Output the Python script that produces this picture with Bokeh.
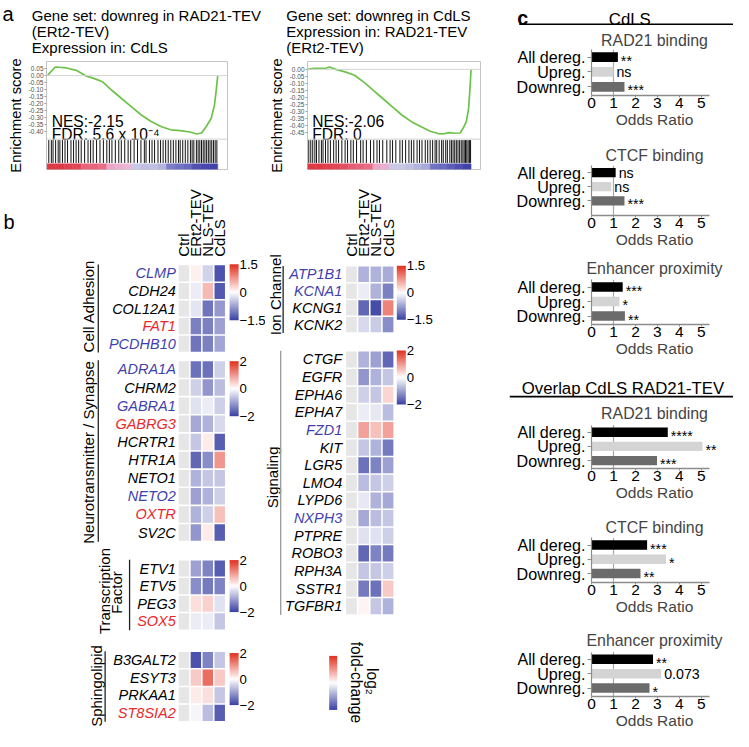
import math
from bokeh.plotting import figure
from bokeh.layouts import column, row
from bokeh.models import (Range1d, ColumnDataSource, LinearColorMapper, ColorBar,
                          FixedTicker, NumeralTickFormatter, Span)
from bokeh.core.properties import value
from bokeh.embed import file_html
from bokeh.resources import INLINE

# ============================ DATA ============================
# ---- panel a : GSEA running enrichment score (rank in % of list) ----
GSEA_L_TITLE = ["Gene set: downreg in RAD21-TEV", "(ERt2-TEV)", "Expression in: CdLS"]
GSEA_L_RANK = [0.4, 4.8, 11.4, 17.1, 22.9, 28.6, 32.4, 38.1, 43.8, 49.5, 55.2, 61.0,
               66.7, 72.4, 78.1, 83.8, 87.6, 90.5, 93.3, 96.2, 98.1, 99.0, 100.0]
GSEA_L_ES = [0.003, 0.062, 0.055, 0.038, -0.002, -0.025, -0.044, -0.107, -0.166, -0.224,
             -0.283, -0.330, -0.365, -0.389, -0.395, -0.405, -0.419, -0.412, -0.365,
             -0.306, -0.212, -0.119, -0.002]
GSEA_L_HITS = [1.0, 2.5, 3.5, 5.0, 6.5, 7.5, 9.0, 10.5, 12.0, 14.0, 15.5, 17.0, 18.5, 20.0,
               22.0, 24.0, 25.5, 27.0, 29.0, 31.0, 33.0, 35.0, 36.5, 38.0, 40.0, 42.0, 43.5,
               45.5, 47.5, 49.0, 51.0, 53.0, 55.0, 57.0, 58.0, 60.0, 61.5, 63.0, 65.0, 66.5,
               68.0, 69.5, 71.0, 72.5, 74.0, 75.5, 77.0, 78.0, 79.5, 81.0, 82.5, 84.0, 85.0,
               86.0, 87.5, 88.5, 89.5, 90.5, 91.5, 92.5, 93.5, 94.5, 95.5, 96.5, 97.5, 98.5, 99.5]
GSEA_L_METRIC = [1.0, 1.0, 0.95, 0.9, 0.7, 0.7, 0.65, 0.35, 0.3, 0.25,
                 -0.2, -0.25, -0.25, -0.3, -0.55, -0.6, -0.65, -0.85, -0.9, -0.95]
GSEA_L_TICKS = [0.05, 0.0, -0.05, -0.10, -0.15, -0.20, -0.25, -0.30, -0.35, -0.40]
GSEA_L_STATS = ["NES:-2.15", "FDR: 5.6 x 10\u207b\u2074"]

GSEA_R_TITLE = ["Gene set: downreg in CdLS", "Expression in: RAD21-TEV", "(ERt2-TEV)"]
GSEA_R_RANK = [0.4, 3.8, 11.5, 13.5, 17.3, 23.0, 28.8, 34.6, 40.4, 46.2, 51.9, 57.7, 63.5,
               69.2, 75.0, 79.8, 82.7, 86.5, 90.4, 93.3, 95.2, 97.1, 98.5, 99.2, 100.0]
GSEA_R_ES = [0.0, 0.007, 0.009, 0.016, 0.0, -0.018, -0.042, -0.092, -0.150, -0.208, -0.265,
             -0.323, -0.370, -0.404, -0.438, -0.454, -0.457, -0.447, -0.452, -0.450, -0.415,
             -0.370, -0.277, -0.161, 0.0]
GSEA_R_HITS = [0.8, 2.0, 3.2, 4.5, 5.5, 7.0, 8.5, 9.5, 11.0, 12.5, 14.0, 16.0, 17.5, 19.0,
               21.0, 23.0, 24.5, 26.5, 28.0, 30.0, 32.5, 34.0, 36.0, 38.5, 40.5, 42.5, 44.0,
               46.0, 48.5, 50.5, 52.0, 54.0, 56.5, 58.0, 60.0, 62.0, 63.5, 65.0, 67.0, 68.5,
               70.0, 72.0, 73.5, 75.0, 76.5, 78.0, 79.0, 80.5, 82.0, 83.0, 84.5, 85.5, 87.0,
               88.0, 89.0, 90.0, 91.0, 92.0, 93.0, 94.0, 95.0, 95.8, 96.6, 97.4, 98.2, 99.0, 99.7]
GSEA_R_METRIC = [1.0, 1.0, 0.95, 0.9, 0.85, 0.75, 0.7, 0.65, 0.35, 0.3,
                 -0.2, -0.2, -0.25, -0.3, -0.35, -0.6, -0.65, -0.75, -0.85, -0.95]
GSEA_R_TICKS = [0.0, -0.05, -0.10, -0.15, -0.20, -0.25, -0.30, -0.35, -0.40, -0.45]
GSEA_R_STATS = ["NES:-2.06", "FDR: 0"]

# ---- panel b : log2 fold-change heatmaps ----
CONDITIONS = ["Ctrl", "ERt2-TEV", "NLS-TEV", "CdLS"]

CA_GENES = ["CLMP", "CDH24", "COL12A1", "FAT1", "PCDHB10"]
CA_ERT2 = [0.1, -0.15, -0.2, -1.0, -1.1]
CA_NLS = [-0.35, 0.5, -1.1, -1.0, -1.0]
CA_CDLS = [-1.35, -1.3, -0.8, -0.75, -0.7]

NT_GENES = ["ADRA1A", "CHRM2", "GABRA1", "GABRG3", "HCRTR1", "HTR1A", "NETO1", "NETO2", "OXTR", "SV2C"]
NT_ERT2 = [-1.5, -0.5, -0.3, -0.9, -0.6, -1.6, -0.8, -1.0, -0.8, -1.1]
NT_NLS = [-1.5, -1.1, -0.2, -0.8, 0.2, -1.2, -0.6, -0.8, -0.5, 0.2]
NT_CDLS = [-0.5, -0.7, -0.5, -0.4, -1.7, 1.0, -0.6, -0.5, 0.6, -1.7]

TF_GENES = ["ETV1", "ETV5", "PEG3", "SOX5"]
TF_ERT2 = [-1.0, -1.2, 0.3, -0.2]
TF_NLS = [-1.3, -1.4, 0.45, -0.2]
TF_CDLS = [-1.7, -1.3, -0.3, -0.6]

SP_GENES = ["B3GALT2", "ESYT3", "PRKAA1", "ST8SIA2"]
SP_ERT2 = [-1.8, 0.5, 0.2, -0.1]
SP_NLS = [-1.3, 1.4, 0.3, -0.7]
SP_CDLS = [-0.6, 0.5, -0.6, -1.7]

IC_GENES = ["ATP1B1", "KCNA1", "KCNG1", "KCNK2"]
IC_ERT2 = [-0.6, -0.15, -1.2, -0.3]
IC_NLS = [-0.6, -0.6, -1.4, -0.4]
IC_CDLS = [-0.65, -1.0, 0.9, -0.9]

SG_GENES = ["CTGF", "EGFR", "EPHA6", "EPHA7", "FZD1", "KIT", "LGR5", "LMO4", "LYPD6",
            "NXPH3", "PTPRE", "ROBO3", "RPH3A", "SSTR1", "TGFBR1"]
SG_ERT2 = [-0.8, -1.1, -0.5, -0.2, 0.9, -0.6, -1.5, -0.7, -0.25, -0.9, -0.3, -1.6, -0.6, -1.4, 0.1]
SG_NLS = [-1.0, -0.8, -0.6, -0.25, 0.6, -0.8, -1.3, -0.6, -0.8, -0.7, -0.3, -1.3, -0.6, -1.5, -0.6]
SG_CDLS = [-1.6, -0.6, 0.4, -0.7, 0.9, -1.4, -1.0, -0.5, -0.9, -0.6, -0.5, -1.4, -0.5, 0.5, -0.8]

BLUE_GENES = ["CLMP", "PCDHB10", "ADRA1A", "GABRA1", "NETO2", "ATP1B1", "KCNA1", "FZD1", "NXPH3"]
RED_GENES = ["FAT1", "GABRG3", "OXTR", "SOX5", "ST8SIA2"]

# ---- panel c : odds ratios ----
OR_CATS = ["All dereg.", "Upreg.", "Downreg."]
OR_TICKS = [0, 1, 2, 3, 4, 5]
OR_REF = 1.0
CDLS_RAD21 = [1.2, 1.0, 1.5]
CDLS_RAD21_SIG = ["**", "ns", "***"]
CDLS_CTCF = [1.1, 0.9, 1.5]
CDLS_CTCF_SIG = ["ns", "ns", "***"]
CDLS_ENH = [1.42, 1.27, 1.52]
CDLS_ENH_SIG = ["***", "*", "**"]
OVL_RAD21 = [3.47, 5.05, 2.98]
OVL_RAD21_SIG = ["****", "**", "***"]
OVL_CTCF = [2.53, 3.39, 2.23]
OVL_CTCF_SIG = ["***", "*", "**"]
OVL_ENH = [2.8, 3.17, 2.64]
OVL_ENH_SIG = ["**", "0.073", "*"]

# ============================ STYLE / LAYOUT ============================
S = 0.978
FONT = "Liberation Sans"


def fpx(v):
    return f"{v * S:.1f}px"


def ramp(stops, n=256):
    out = []
    for i in range(n):
        t = i / (n - 1)
        for (t0, c0), (t1, c1) in zip(stops[:-1], stops[1:]):
            if t0 <= t <= t1:
                f = (t - t0) / (t1 - t0)
                a = [int(c0[k:k + 2], 16) for k in (1, 3, 5)]
                b = [int(c1[k:k + 2], 16) for k in (1, 3, 5)]
                out.append("#%02x%02x%02x" % tuple(round(a[j] + (b[j] - a[j]) * f) for j in range(3)))
                break
    return out


HEAT_PALETTE = ramp([(0, "#3a41a3"), (0.5, "#ffffff"), (1, "#e2301f")])
RANK_PALETTE = ramp([(0, "#3a3aa6"), (0.2, "#7272c4"), (0.38, "#c2c2e4"), (0.5, "#ece6f2"),
                     (0.65, "#eab0d0"), (0.85, "#e8647c"), (1, "#de3a46")])


def txt(p, x, y, text, size, **kw):
    opts = dict(text_font=value(FONT), text_font_size=value(fpx(size)), text_color="black",
                text_baseline=value("alphabetic"), text_align=value("left"))
    for k, v in kw.items():
        if k in ("text_baseline", "text_align", "text_font_style") and isinstance(v, str):
            v = value(v)
        opts[k] = v
    p.text(x=x, y=y, text=text, **opts)


def canvas(w, h, xr, yr, **kw):
    p = figure(width=w, height=h, x_range=xr, y_range=yr, output_backend="svg",
               toolbar_location=None, x_axis_type=None, y_axis_type=None,
               min_border=0, title=None, frame_align=False, **kw)
    p.outline_line_color = None
    p.background_fill_color = "white"
    p.border_fill_color = "white"
    return p


def heights(bnds):
    pb = [round(b * S) for b in bnds]
    return [pb[i + 1] - pb[i] for i in range(len(pb) - 1)]


XA, XB, XC = (0, 271), (271, 520), (520, 749)
WA = round(XA[1] * S)
WB = round(XB[1] * S) - WA
WC = round(XC[1] * S) - round(XC[0] * S)


# ---------------- panel a ----------------
def gsea_titles(w, h):
    p = canvas(w, h, Range1d(0, 520), Range1d(-58, 0))
    txt(p, [2], [-14.0], ["a"], 20.5)
    txt(p, [32] * 3, [-15.7, -32.0, -48.2], GSEA_L_TITLE, 15.3)
    txt(p, [292] * 3, [-15.7, -32.0, -48.2], GSEA_R_TITLE, 15.3)
    return p


def gsea_plot(w, h, cx, fx0, fx1, x0px, x100px, es_a, ya, es_b, yb, ticks,
              rank, es, hits, metric, stats, stats_x):
    ftop, fbot = 62.0, 172.3
    fy0, fy1 = 58.0, 185.0
    kx = (x100px - x0px) / 100.0
    xr = Range1d((fx0 - x0px) / kx, (fx1 - x0px) / kx)
    ky = (yb - ya) / (es_a - es_b)
    yr = Range1d(es_a - (fbot - ya) / ky, es_a + (ya - ftop) / ky)
    p = figure(width=w, height=h, x_range=xr, y_range=yr, output_backend="svg",
               toolbar_location=None, x_axis_type=None, title=None, min_border=0,
               frame_align=False,
               min_border_left=round((fx0 - cx[0]) * S), min_border_right=round((cx[1] - fx1) * S),
               min_border_top=round((ftop - fy0) * S), min_border_bottom=round((fy1 - fbot) * S))
    p.extra_x_ranges = {"px": Range1d(fx0, fx1)}
    p.extra_y_ranges = {"px": Range1d(-fbot, -ftop)}
    p.outline_line_color = "#c4c4c4"
    p.border_fill_color = "white"
    p.ygrid.visible = False
    ax = p.yaxis[0]
    ax.ticker = FixedTicker(ticks=ticks)
    ax.formatter = NumeralTickFormatter(format="0.00")
    ax.major_label_text_font_size = fpx(6.6)
    ax.major_label_text_font = FONT
    ax.major_label_text_color = "#505050"
    ax.major_label_standoff = 1
    ax.axis_line_color = None
    ax.major_tick_line_color = "#a0a0a0"
    ax.major_tick_out = 2
    ax.major_tick_in = 0
    ax.minor_tick_line_color = None
    ax.axis_label = "Enrichment score"
    ax.axis_label_text_font = FONT
    ax.axis_label_text_font_size = fpx(15)
    ax.axis_label_text_font_style = "normal"
    ax.axis_label_text_color = "black"
    ax.axis_label_standoff = 2

    p.add_layout(Span(location=0, dimension="width", line_color="#d4d4d4", line_width=1))
    p.add_layout(Span(location=-141.3, dimension="width", y_range_name="px",
                      line_color="#d0d0d0", line_width=1))
    p.line(x=rank, y=es, line_color="#6cc24a", line_width=1.7)
    p.segment(x0=hits, x1=hits, y0=-142.3, y1=-165.6, y_range_name="px",
              line_color="#111111", line_width=1.0)
    n = len(metric)
    seg_w = 100.0 / n
    mapper = LinearColorMapper(palette=RANK_PALETTE, low=-1, high=1)
    src = ColumnDataSource(dict(x=[(i + 0.5) * seg_w for i in range(n)], m=metric))
    p.rect(x="x", y=-169.4, width=seg_w, height=5.8, source=src, y_range_name="px",
           fill_color={"field": "m", "transform": mapper},
           line_color={"field": "m", "transform": mapper}, line_width=0.5)
    txt(p, [stats_x] * 2, [-123.3, -136.7], stats, 16, x_range_name="px", y_range_name="px")
    return p


# ---------------- panel b ----------------
def heatmap(w, h, cx, fy0, fy1, c0, q, r0, pitch, label_x, genes, ert2, nls, cdls, lim,
            cat_text, cat_x, cat_y, line_x, line_color, cb_top, cb_x, cb_h,
            header_y=None, letter=None):
    n = len(genes)
    xr = Range1d((cx[0] - c0) / q - 0.5, (cx[1] - c0) / q - 0.5)

    def yv(Y):
        return -((Y - r0) / pitch - 0.5)

    yr = Range1d(yv(fy1), yv(fy0))
    p = canvas(w, h, xr, yr)
    p.extra_x_ranges = {"px": Range1d(cx[0], cx[1])}
    p.extra_y_ranges = {"px": Range1d(-fy1, -fy0)}
    mapper = LinearColorMapper(palette=HEAT_PALETTE, low=-lim, high=lim, nan_color="#e6e6e6")
    xs, ys, vs = [], [], []
    series = [[float("nan")] * n, ert2, nls, cdls]
    for j, ser in enumerate(series):
        for i, v in enumerate(ser):
            xs.append(j)
            ys.append(-i)
            vs.append(v)
    src = ColumnDataSource(dict(x=xs, y=ys, v=vs))
    p.rect(x="x", y="y", width=0.875, height=0.915, source=src,
           fill_color={"field": "v", "transform": mapper}, line_color=None)
    colors = ["#3f3fae" if g in BLUE_GENES else "#e8292b" if g in RED_GENES else "black" for g in genes]
    txt(p, label_x, [-i for i in range(n)], genes, 14.8, text_color=colors, x_range_name="px",
        text_align="right", text_baseline="middle", text_font_style="italic")
    txt(p, cat_x, [-y for y in cat_y], cat_text, 15.3, x_range_name="px", y_range_name="px",
        angle=math.pi / 2, text_align="center", text_baseline="middle")
    p.segment(x0=line_x, x1=line_x, y0=0.5, y1=-(n - 1) - 0.5, x_range_name="px",
              line_color=line_color, line_width=1.3)
    if header_y is not None:
        txt(p, list(range(len(CONDITIONS))), -header_y, CONDITIONS, 15.3, y_range_name="px",
            angle=math.pi / 2, text_align="left", text_baseline="middle")
    if letter:
        txt(p, 3, -226.5, [letter], 20.5, x_range_name="px", y_range_name="px")
    sx = w / (cx[1] - cx[0])
    sy = h / (fy1 - fy0)
    cb = ColorBar(color_mapper=mapper, orientation="vertical",
                  location=((cb_x - cx[0]) * sx, (fy1 - cb_top - cb_h) * sy),
                  width=round(9 * sx), height=round(cb_h * sy), padding=0, margin=0,
                  ticker=FixedTicker(ticks=[-lim, 0, lim]),
                  major_label_text_font=FONT, major_label_text_font_size=fpx(13.5),
                  major_label_text_color="black", label_standoff=1,
                  major_tick_line_color=None, minor_tick_line_color=None, bar_line_color=None,
                  background_fill_color=None, border_line_color=None)
    p.add_layout(cb, "center")
    return p


def legend_fig(w, h, cx, fy0, fy1):
    p = canvas(w, h, Range1d(cx[0], cx[1]), Range1d(-fy1, -fy0))
    sx = w / (cx[1] - cx[0])
    sy = h / (fy1 - fy0)
    mapper = LinearColorMapper(palette=HEAT_PALETTE, low=-1, high=1)
    cb = ColorBar(color_mapper=mapper, orientation="vertical",
                  location=((336 - cx[0]) * sx, (fy1 - 725) * sy),
                  width=round(8 * sx), height=round(55 * sy), padding=0, margin=0,
                  ticker=FixedTicker(ticks=[]), major_label_text_font_size="0px",
                  major_tick_line_color=None, minor_tick_line_color=None, bar_line_color=None,
                  background_fill_color=None, border_line_color=None)
    p.add_layout(cb, "center")
    txt(p, [380.5, 363.5], [-696, -697], ["log\u2082", "fold-change"], 16,
        angle=-math.pi / 2, text_align="center", text_baseline="middle")
    return p


# ---------------- panel c ----------------
OR_X0, OR_K, OR_FX1 = 604.0, 22.5, 733.0
BAR_COLORS = ["#000000", "#d4d4d4", "#6b6b6b"]


def header_fig(w, h, fy0, fy1, letter, text, text_cx, text_base, line_y, line_x0):
    p = canvas(w, h, Range1d(XC[0], XC[1]), Range1d(-fy1, -fy0))
    if letter:
        txt(p, [528], [-18.0], [letter], 20, text_font_style="bold")
    txt(p, [text_cx], [-text_base], [text], 17.2, text_align="center")
    p.segment(x0=line_x0, x1=XC[1], y0=-line_y, y1=-line_y, line_color="black", line_width=1.6)
    return p


def odds_fig(w, h, cy0, cy1, title, title_cx, title_cc, frame_top, centers, axis_y, vals, notes):
    pitch = (centers[2] - centers[0]) / 2.0
    yb = -(axis_y - centers[2]) / pitch
    yt = 2 + (centers[0] - frame_top) / pitch
    p = figure(width=w, height=h, x_range=Range1d(0, (OR_FX1 - OR_X0) / OR_K),
               y_range=Range1d(yb, yt), output_backend="svg", toolbar_location=None,
               frame_align=False,
               min_border=0, min_border_left=round((OR_X0 - XC[0]) * S),
               min_border_right=round((XC[1] - OR_FX1) * S),
               min_border_top=round((frame_top - cy0) * S),
               min_border_bottom=round((cy1 - axis_y) * S))
    p.title.text = title
    p.title.align = "center"
    p.title.offset = (title_cx - (OR_X0 + OR_FX1) / 2) * S
    p.title.text_font = FONT
    p.title.text_font_size = fpx(16.3)
    p.title.text_font_style = "normal"
    p.title.standoff = max(0.0, (frame_top - 9.3 - title_cc) * S)
    p.outline_line_color = None
    p.border_fill_color = "white"
    p.grid.visible = False
    xa = p.xaxis[0]
    xa.ticker = FixedTicker(ticks=OR_TICKS)
    xa.bounds = (0, 5.35)
    xa.axis_line_color = "#8c8c8c"
    xa.axis_line_width = 1.5
    xa.major_tick_line_color = "#8c8c8c"
    xa.major_tick_out = 2
    xa.major_tick_in = 0
    xa.minor_tick_line_color = None
    xa.major_label_text_font = FONT
    xa.major_label_text_font_size = fpx(15.8)
    xa.major_label_text_color = "black"
    xa.major_label_standoff = 0
    xa.axis_label = "Odds Ratio"
    xa.axis_label_text_font = FONT
    xa.axis_label_text_font_size = fpx(15.8)
    xa.axis_label_text_font_style = "normal"
    xa.axis_label_standoff = 0
    ya = p.yaxis[0]
    ya.ticker = FixedTicker(ticks=[2, 1, 0])
    ya.major_label_overrides = {2: OR_CATS[0], 1: OR_CATS[1], 0: OR_CATS[2]}
    ya.bounds = (yb, 2.5)
    ya.axis_line_color = "#8c8c8c"
    ya.axis_line_width = 1.2
    ya.major_tick_line_color = "#8c8c8c"
    ya.major_tick_out = 4
    ya.major_tick_in = 0
    ya.minor_tick_line_color = None
    ya.major_label_text_font = FONT
    ya.major_label_text_font_size = fpx(16.5)
    ya.major_label_text_color = "black"
    ya.major_label_standoff = 2
    p.segment(x0=OR_REF, x1=OR_REF, y0=yb, y1=2.5, line_color="#a8a8a8", line_width=1.2)
    p.hbar(y=[2, 1, 0], left=0, right=vals, height=0.66, fill_color=BAR_COLORS, line_color=None)
    offs = [3.5 if "*" in s else 0 for s in notes]
    txt(p, vals, [2, 1, 0], notes, 14.5, x_offset=3, y_offset=offs, text_baseline="middle")
    return p


# ============================ BUILD ============================
hA = heights([0, 58, 185, 361, 560, 652, 747])
hB = heights([0, 58, 185, 350, 640, 747])
hC = heights([0, 30, 140, 259, 368, 408, 520, 632, 747])

tAB = gsea_titles(WA + WB, hA[0])
gA = gsea_plot(WA, hA[1], XA, 46.7, 231.7, 47.3, 221.7, 0.05, 69.3, -0.40, 133.3,
               GSEA_L_TICKS, GSEA_L_RANK, GSEA_L_ES, GSEA_L_HITS, GSEA_L_METRIC, GSEA_L_STATS, 52)
hmCA = heatmap(WA, hA[2], XA, 185, 361, 181.5, 12.2, 270, 18.0, 179.3, CA_GENES, CA_ERT2, CA_NLS,
               CA_CDLS, 1.5, ["Cell Adhesion"], [89.5], [312.5], 100, "#222222", 270, 234.3, 57,
               header_y=262, letter="b")
hmNT = heatmap(WA, hA[3], XA, 361, 560, 181.5, 12.2, 368, 18.5, 179.3, NT_GENES, NT_ERT2, NT_NLS,
               NT_CDLS, 2, ["Neurotransmitter / Synapse"], [89.5], [462], 100, "#222222", 369,
               234.3, 56)
hmTF = heatmap(WA, hA[4], XA, 560, 652, 181.5, 12.2, 571.5, 18.0, 179.3, TF_GENES, TF_ERT2, TF_NLS,
               TF_CDLS, 2, ["Transcription", "Factor"], [106, 119], [603.5, 605], 132, "#222222",
               572, 234.3, 53)
hmSP = heatmap(WA, hA[5], XA, 652, 747, 181.5, 12.2, 665, 18.0, 179.3, SP_GENES, SP_ERT2, SP_NLS,
               SP_CDLS, 2, ["Sphingolipid"], [98.5], [700.5], 107, "#222222", 667, 234.3, 53)

gB = gsea_plot(WB, hB[1], XB, 306.7, 490.0, 306.7, 480.0, 0.0, 70.0, -0.45, 135.0,
               GSEA_R_TICKS, GSEA_R_RANK, GSEA_R_ES, GSEA_R_HITS, GSEA_R_METRIC, GSEA_R_STATS, 311.7)
hmIC = heatmap(WB, hB[2], XB, 185, 350, 352.5, 12.45, 271.5, 17.2, 349.3, IC_GENES, IC_ERT2, IC_NLS,
               IC_CDLS, 1.5, ["Ion Channel"], [281.5], [301], 289, "#222222", 271.7, 405, 55,
               header_y=262)
hmSG = heatmap(WB, hB[3], XB, 350, 640, 352.5, 12.45, 358.3, 18.0, 349.3, SG_GENES, SG_ERT2, SG_NLS,
               SG_CDLS, 2, ["Signaling"], [278.5], [487.7], 286.5, "#9a9a9a", 358.3, 405, 55)
lgB = legend_fig(WB, hB[4], XB, 640, 747)

h1 = header_fig(WC, hC[0], 0, 30, "c", "CdLS", 643, 20.0, 24.5, 530)
c1 = odds_fig(WC, hC[1], 30, 140, "RAD21 binding", 658.3, 39.2, 49.5, [57.3, 73.0, 88.0], 97,
              CDLS_RAD21, CDLS_RAD21_SIG)
c2 = odds_fig(WC, hC[2], 140, 259, "CTCF binding", 654, 157.5, 169.0, [176.3, 190.5, 205.0], 220,
              CDLS_CTCF, CDLS_CTCF_SIG)
c3 = odds_fig(WC, hC[3], 259, 368, "Enhancer proximity", 650.8, 271, 285.5, [293.3, 308.3, 323.0],
              331.7, CDLS_ENH, CDLS_ENH_SIG)
h2 = header_fig(WC, hC[4], 368, 408, None, "Overlap CdLS RAD21-TEV", 636, 396.7, 405, 520)
c4 = odds_fig(WC, hC[5], 408, 520, "RAD21 binding", 658.3, 420, 433.5, [441.3, 455.0, 470.0], 478,
              OVL_RAD21, OVL_RAD21_SIG)
c5 = odds_fig(WC, hC[6], 520, 632, "CTCF binding", 654, 536.7, 549.0, [556.7, 571.3, 585.8], 595,
              OVL_CTCF, OVL_CTCF_SIG)
c6 = odds_fig(WC, hC[7], 632, 747, "Enhancer proximity", 650.8, 651, 665.5, [673.5, 688.0, 703.0],
              711.7, OVL_ENH, OVL_ENH_SIG)

left = column(tAB, row(column(gA, hmCA, hmNT, hmTF, hmSP),
                       column(gB, hmIC, hmSG, lgB)))
layout = row(left, column(h1, c1, c2, c3, h2, c4, c5, c6))

open("out.html", "w").write(file_html(layout, INLINE))
